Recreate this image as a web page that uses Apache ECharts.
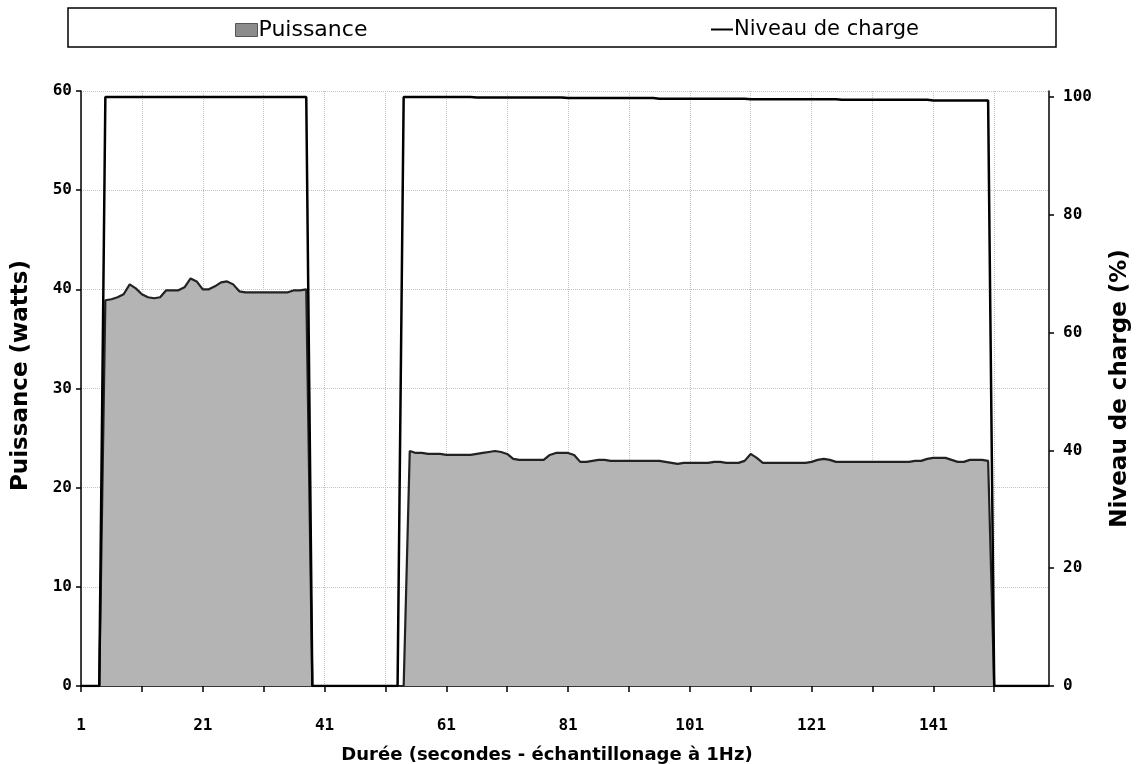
<!DOCTYPE html>
<html>
<head>
<meta charset="utf-8">
<title>Puissance / Niveau de charge</title>
<script src="https://cdn.jsdelivr.net/npm/echarts@6/dist/echarts.min.js"></script>
<style>
  html, body { margin: 0; padding: 0; background: #fff; }
  #chart { width: 1138px; height: 764px; }
</style>
</head>
<body>
<div id="chart"></div>
<script>
'use strict';

// samples 1..160 (1 Hz)
const samples = Array.from({ length: 160 }, (v, i) => String(i + 1));

// puissance (W)
const power = [
  0, 0, 0, 0,
  38.9, 39.0, 39.2, 39.5, 40.5, 40.1, 39.5, 39.2, 39.1, 39.2,
  39.9, 39.9, 39.9, 40.2, 41.1, 40.8, 40.0, 40.0, 40.3, 40.7,
  40.8, 40.5, 39.8, 39.7, 39.7, 39.7, 39.7, 39.7, 39.7, 39.7,
  39.7, 39.9, 39.9, 40.0,
  0, 0, 0, 0, 0, 0, 0, 0, 0, 0, 0, 0, 0, 0, 0, 0,
  23.7, 23.5, 23.5, 23.4, 23.4, 23.4, 23.3, 23.3, 23.3, 23.3,
  23.3, 23.4, 23.5, 23.6, 23.7, 23.6, 23.4, 22.9, 22.8, 22.8,
  22.8, 22.8, 22.8, 23.3, 23.5, 23.5, 23.5, 23.3, 22.6, 22.6,
  22.7, 22.8, 22.8, 22.7, 22.7, 22.7, 22.7, 22.7, 22.7, 22.7,
  22.7, 22.7, 22.6, 22.5, 22.4, 22.5, 22.5, 22.5, 22.5, 22.5,
  22.6, 22.6, 22.5, 22.5, 22.5, 22.7, 23.4, 23.0, 22.5, 22.5,
  22.5, 22.5, 22.5, 22.5, 22.5, 22.5, 22.6, 22.8, 22.9, 22.8,
  22.6, 22.6, 22.6, 22.6, 22.6, 22.6, 22.6, 22.6, 22.6, 22.6,
  22.6, 22.6, 22.6, 22.7, 22.7, 22.9, 23.0, 23.0, 23.0, 22.8,
  22.6, 22.6, 22.8, 22.8, 22.8, 22.7,
  0, 0, 0, 0, 0, 0, 0, 0, 0, 0
];

// niveau de charge (%)
const charge = [
  0, 0, 0, 0,
  100, 100, 100, 100, 100, 100, 100, 100, 100, 100,
  100, 100, 100, 100, 100, 100, 100, 100, 100, 100,
  100, 100, 100, 100, 100, 100, 100, 100, 100, 100,
  100, 100, 100, 100,
  0, 0, 0, 0, 0, 0, 0, 0, 0, 0, 0, 0, 0, 0, 0,
  100, 100, 100, 100, 100, 100, 100, 100, 100, 100, 100, 100,
  99.9, 99.9, 99.9, 99.9, 99.9, 99.9, 99.9, 99.9, 99.9, 99.9, 99.9, 99.9, 99.9, 99.9, 99.9,
  99.8, 99.8, 99.8, 99.8, 99.8, 99.8, 99.8, 99.8, 99.8, 99.8, 99.8, 99.8, 99.8, 99.8, 99.8,
  99.7, 99.7, 99.7, 99.7, 99.7, 99.7, 99.7, 99.7, 99.7, 99.7, 99.7, 99.7, 99.7, 99.7, 99.7,
  99.6, 99.6, 99.6, 99.6, 99.6, 99.6, 99.6, 99.6, 99.6, 99.6, 99.6, 99.6, 99.6, 99.6, 99.6,
  99.5, 99.5, 99.5, 99.5, 99.5, 99.5, 99.5, 99.5, 99.5, 99.5, 99.5, 99.5, 99.5, 99.5, 99.5,
  99.4, 99.4, 99.4, 99.4, 99.4, 99.4, 99.4, 99.4, 99.4, 99.4,
  0, 0, 0, 0, 0, 0, 0, 0, 0, 0
];

const monoLabel = {
  fontFamily: 'DejaVu Sans Mono',
  fontWeight: 'bold',
  fontSize: 16,
  color: '#000'
};
const bold = { fontFamily: 'DejaVu Sans', fontWeight: 'bold', color: '#000' };
const legendText = { fontFamily: 'DejaVu Sans', fontSize: 21, color: '#000', padding: [0, 0, 0, -4] };
const blackLine = { color: '#000', width: 1.5 };
const dotted = { color: '#c4c4c4', type: 'dotted', width: 1 };

const option = {
  animation: false,
  backgroundColor: '#fff',
  graphic: [{
    type: 'rect',
    shape: { x: 68, y: 8, width: 988, height: 39 },
    style: { fill: 'none', stroke: '#000', lineWidth: 1.5 }
  }],
  legend: [
    {
      data: [{ name: 'Puissance', icon: 'rect',
        itemStyle: { color: '#8c8c8c', borderColor: '#555', borderWidth: 1 } }],
      left: 230, top: 14,
      itemWidth: 22, itemHeight: 13,
      selectedMode: false,
      textStyle: Object.assign({}, legendText, { fontSize: 22 })
    },
    {
      data: [{ name: 'Niveau de charge', icon: 'rect', itemStyle: { color: '#000' } }],
      left: 706, top: 14,
      itemWidth: 22, itemHeight: 2,
      selectedMode: false,
      textStyle: legendText
    }
  ],
  grid: { left: 81, right: 89, top: 91, bottom: 78, outerBoundsMode: 'none' },
  xAxis: {
    type: 'category',
    data: samples,
    boundaryGap: false,
    name: 'Durée (secondes - échantillonage à 1Hz)',
    nameLocation: 'middle',
    nameGap: 60,
    nameTextStyle: Object.assign({ fontSize: 18, padding: [0, 36, 0, 0] }, bold),
    axisLine: { lineStyle: blackLine },
    axisTick: { interval: 9, length: 6, lineStyle: blackLine },
    axisLabel: Object.assign({ interval: 19, margin: 32 }, monoLabel),
    splitLine: { show: true, interval: 9, lineStyle: dotted }
  },
  yAxis: [
    {
      type: 'value',
      position: 'left',
      min: 0, max: 60, interval: 10,
      name: 'Puissance (watts)',
      nameLocation: 'middle',
      nameRotate: 90,
      nameGap: 48,
      nameTextStyle: Object.assign({ fontSize: 23, padding: [0, 0, 0, 26] }, bold),
      axisLine: { show: true, lineStyle: blackLine },
      axisTick: { show: true, length: 5, lineStyle: blackLine },
      axisLabel: Object.assign({ margin: 9 }, monoLabel),
      splitLine: { show: true, lineStyle: dotted }
    },
    {
      type: 'value',
      position: 'right',
      min: 0, max: 101, interval: 20,
      name: 'Niveau de charge (%)',
      nameLocation: 'middle',
      nameRotate: 90,
      nameGap: 60,
      nameTextStyle: Object.assign({ fontSize: 23 }, bold),
      axisLine: { show: true, lineStyle: blackLine },
      axisTick: { show: true, length: 5, lineStyle: blackLine },
      axisLabel: Object.assign({ margin: 14, showMaxLabel: false }, monoLabel),
      splitLine: { show: false }
    }
  ],
  series: [
    {
      name: 'Puissance',
      type: 'line',
      yAxisIndex: 0,
      data: power,
      showSymbol: false,
      symbol: 'none',
      lineStyle: { color: '#222', width: 2.2 },
      itemStyle: { color: '#8c8c8c' },
      areaStyle: { color: '#b4b4b4', opacity: 1 }
    },
    {
      name: 'Niveau de charge',
      type: 'line',
      yAxisIndex: 1,
      data: charge,
      showSymbol: false,
      symbol: 'none',
      lineStyle: { color: '#000', width: 2.5 },
      itemStyle: { color: '#000' }
    }
  ]
};

const chart = echarts.init(document.getElementById('chart'));
chart.setOption(option);
</script>
</body>
</html>
